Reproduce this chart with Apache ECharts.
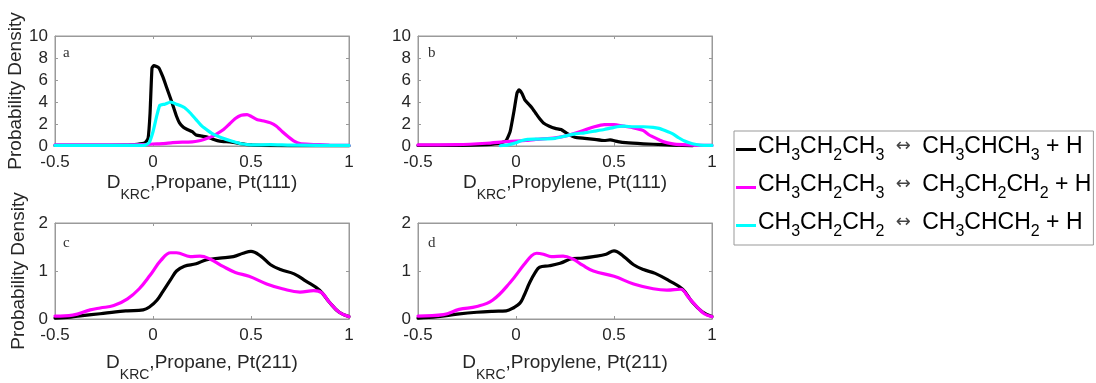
<!DOCTYPE html>
<html>
<head>
<meta charset="utf-8">
<script src="https://cdn.jsdelivr.net/npm/echarts@6/dist/echarts.min.js"></script>
<style>
  html, body { margin: 0; padding: 0; background: #fff; }
  #chart { width: 1096px; height: 383px; }
</style>
</head>
<body>
<div id="chart"></div>
<script>
// Reaction names (digits are drawn as subscripts in the legend)
const reactionNames = [
  'CH3CH2CH3 ↔ CH3CHCH3 + H',
  'CH3CH2CH3 ↔ CH3CH2CH2 + H',
  'CH3CH2CH2 ↔ CH3CHCH2 + H'
];
const reactionColors = ['#000000', '#ff00ff', '#00ffff'];

// Panel letters and axis titles
const panelLetters = ['a', 'b', 'c', 'd'];
const panelMolecules = ['Propane', 'Propylene', 'Propane', 'Propylene'];
const panelSurfaces = ['Pt(111)', 'Pt(111)', 'Pt(211)', 'Pt(211)'];
const yTitle = 'Probability Density';

// Axis ranges
const xMin = -0.5, xMax = 1, xStep = 0.5;
const yMaxTop = 10, yStepTop = 2;
const yMaxBottom = 2, yStepBottom = 1;

// Panel a: Propane on Pt(111)  [D_KRC, density]
const aBlack = [[-0.5,0.05],[-0.3,0.05],[-0.15,0.08],[-0.08,0.15],[-0.04,0.3],[-0.025,0.7],[-0.015,3],[-0.005,7.1],[0.005,7.3],[0.03,7.1],[0.05,6.3],[0.07,5.3],[0.09,4.3],[0.105,3.5],[0.12,2.7],[0.135,2.1],[0.155,1.7],[0.175,1.5],[0.2,1.3],[0.22,1.0],[0.25,0.9],[0.28,0.8],[0.31,0.6],[0.34,0.45],[0.4,0.35],[0.47,0.15],[0.55,0.05],[0.7,0.02],[1,0.02]];
const aMagenta = [[-0.5,0.1],[-0.2,0.1],[-0.05,0.12],[0,0.18],[0.05,0.22],[0.1,0.3],[0.15,0.35],[0.2,0.38],[0.23,0.45],[0.26,0.6],[0.3,0.85],[0.33,1.15],[0.36,1.5],[0.39,2.0],[0.42,2.5],[0.45,2.8],[0.48,2.85],[0.5,2.7],[0.53,2.4],[0.57,2.25],[0.6,2.1],[0.63,1.8],[0.66,1.3],[0.69,0.85],[0.72,0.45],[0.75,0.22],[0.8,0.15],[0.85,0.12],[0.9,0.08],[1,0.05]];
const aCyan = [[-0.5,0.05],[-0.1,0.05],[-0.04,0.08],[-0.02,0.3],[0,1.3],[0.02,2.8],[0.035,3.7],[0.06,3.8],[0.09,4.0],[0.12,3.8],[0.16,3.5],[0.19,3.0],[0.22,2.4],[0.25,1.8],[0.28,1.4],[0.31,1.05],[0.35,0.75],[0.4,0.45],[0.45,0.2],[0.5,0.1],[0.6,0.12],[0.7,0.08],[1,0.05]];

// Panel b: Propylene on Pt(111)
const bBlack = [[-0.5,0.05],[-0.3,0.05],[-0.15,0.12],[-0.08,0.25],[-0.05,0.5],[-0.03,1.3],[-0.01,3.2],[0.005,4.8],[0.015,5.1],[0.03,4.8],[0.045,4.2],[0.065,3.8],[0.08,3.5],[0.1,3.0],[0.12,2.5],[0.14,2.1],[0.17,1.8],[0.2,1.6],[0.23,1.5],[0.26,1.15],[0.3,0.8],[0.35,0.7],[0.4,0.6],[0.45,0.5],[0.48,0.55],[0.52,0.4],[0.56,0.3],[0.65,0.2],[0.75,0.12],[0.85,0.05],[0.9,0.02]];
const bMagenta = [[-0.5,0.1],[-0.3,0.12],[-0.15,0.25],[-0.05,0.4],[0.05,0.5],[0.1,0.6],[0.2,0.75],[0.25,0.9],[0.3,1.15],[0.35,1.45],[0.4,1.75],[0.45,1.95],[0.5,1.95],[0.55,1.8],[0.6,1.65],[0.65,1.4],[0.68,1.0],[0.72,0.65],[0.75,0.4],[0.8,0.2],[0.85,0.12],[0.9,0.08],[1,0.05]];
const bCyan = [[-0.08,0.02],[-0.04,0.1],[0,0.3],[0.03,0.5],[0.06,0.6],[0.1,0.62],[0.15,0.65],[0.2,0.7],[0.25,0.9],[0.3,1.1],[0.35,1.2],[0.4,1.35],[0.45,1.5],[0.5,1.7],[0.55,1.8],[0.6,1.75],[0.65,1.75],[0.7,1.7],[0.73,1.6],[0.76,1.4],[0.8,1.1],[0.83,0.75],[0.86,0.45],[0.9,0.2],[0.94,0.08],[1,0.05]];

// Panel c: Propane on Pt(211)
const cBlack = [[-0.5,0.02],[-0.42,0.04],[-0.36,0.07],[-0.27,0.11],[-0.19,0.15],[-0.13,0.17],[-0.05,0.19],[-0.015,0.26],[0.02,0.39],[0.05,0.57],[0.09,0.82],[0.12,1.0],[0.16,1.1],[0.22,1.15],[0.27,1.23],[0.34,1.27],[0.41,1.3],[0.46,1.37],[0.5,1.41],[0.55,1.31],[0.6,1.13],[0.65,1.03],[0.72,0.94],[0.78,0.79],[0.85,0.6],[0.9,0.35],[0.95,0.14],[1,0.05]];
const cMagenta = [[-0.5,0.06],[-0.41,0.08],[-0.32,0.19],[-0.27,0.23],[-0.2,0.28],[-0.13,0.42],[-0.07,0.63],[-0.015,0.91],[0.04,1.22],[0.09,1.38],[0.12,1.38],[0.19,1.3],[0.24,1.31],[0.29,1.25],[0.36,1.09],[0.42,0.97],[0.49,0.89],[0.58,0.73],[0.66,0.63],[0.75,0.56],[0.82,0.59],[0.86,0.55],[0.9,0.35],[0.95,0.14],[1,0.05]];

// Panel d: Propylene on Pt(211)
const dBlack = [[-0.5,0.02],[-0.4,0.05],[-0.3,0.1],[-0.2,0.14],[-0.12,0.16],[-0.05,0.17],[-0.01,0.24],[0.02,0.33],[0.04,0.48],[0.07,0.76],[0.1,0.98],[0.12,1.08],[0.17,1.11],[0.225,1.16],[0.29,1.26],[0.34,1.27],[0.395,1.3],[0.46,1.35],[0.5,1.42],[0.55,1.3],[0.6,1.13],[0.65,1.03],[0.71,0.95],[0.78,0.8],[0.85,0.62],[0.9,0.35],[0.95,0.15],[1,0.05]];
const dMagenta = [[-0.5,0.06],[-0.37,0.09],[-0.29,0.2],[-0.2,0.26],[-0.12,0.39],[-0.03,0.76],[0.04,1.13],[0.08,1.32],[0.105,1.37],[0.14,1.35],[0.18,1.3],[0.24,1.31],[0.29,1.25],[0.34,1.12],[0.395,1.0],[0.5,0.89],[0.6,0.73],[0.7,0.63],[0.77,0.6],[0.84,0.62],[0.88,0.45],[0.92,0.27],[0.96,0.11],[1,0.05]];

const panelSeries = [
  [aBlack, aMagenta, aCyan],
  [bBlack, bMagenta, bCyan],
  [cBlack, cMagenta],
  [dBlack, dMagenta]
];

// Panel boxes in pixels: [left, top, width, height]
const boxes = [
  [55, 36, 294, 110],
  [418, 36, 294, 110],
  [55, 223, 294, 108],
  [418, 223, 294, 108]
];

const tickColor = '#262626';
const frameColor = '#9a9a9a';
const sansFont = '"Liberation Sans", Arial, sans-serif';

// Turn "CH3CH2CH3 ↔ ..." into rich text with subscript digits
function chemRich(name) {
  let out = '';
  const parts = name.match(/\d+|↔|[^\d↔]+/g);
  parts.forEach(p => {
    if (/^\d+$/.test(p)) out += '{s|' + p + '}';
    else if (p === '↔') out += '{a|' + p + '}';
    else out += '{n|' + p + '}';
  });
  return out;
}

const grids = [], xAxes = [], yAxes = [], series = [], graphics = [];

boxes.forEach((b, i) => {
  const isTop = i < 2;
  grids.push({ left: b[0], top: b[1], width: b[2], height: b[3], show: true, borderColor: frameColor, borderWidth: 1 });
  // bottom axis with labels
  xAxes.push({
    gridIndex: i, type: 'value', min: xMin, max: xMax, interval: xStep,
    position: 'bottom',
    axisLine: { show: true, onZero: false, lineStyle: { color: frameColor, width: 1 } },
    axisTick: { show: true, inside: true, length: 3, lineStyle: { color: frameColor } },
    axisLabel: { margin: 8, fontSize: 17, color: tickColor, fontFamily: sansFont,
      formatter: v => String(Math.round(v * 10) / 10) },
    splitLine: { show: false },
    name: '{n|D}{s|KRC}{n|,' + panelMolecules[i] + ', ' + panelSurfaces[i] + '}',
    nameLocation: 'middle',
    nameGap: isTop ? 27 : 34,
    nameTextStyle: {
      rich: {
        n: { fontSize: 19, color: tickColor, fontFamily: sansFont, verticalAlign: 'bottom', padding: [0, 0, 10, 0] },
        s: { fontSize: 14, color: tickColor, fontFamily: sansFont, verticalAlign: 'bottom' }
      }
    }
  });
  // top frame axis carrying inward ticks only
  xAxes.push({
    gridIndex: i, type: 'value', min: xMin, max: xMax, interval: xStep,
    position: 'top',
    axisLine: { show: true, onZero: false, lineStyle: { color: frameColor, width: 1 } },
    axisTick: { show: true, inside: true, length: 3, lineStyle: { color: frameColor } },
    axisLabel: { show: false }, splitLine: { show: false }
  });
  const yMax = isTop ? yMaxTop : yMaxBottom;
  const yStep = isTop ? yStepTop : yStepBottom;
  yAxes.push({
    gridIndex: i, type: 'value', min: 0, max: yMax, interval: yStep,
    position: 'left',
    axisLine: { show: true, onZero: false, lineStyle: { color: frameColor, width: 1 } },
    axisTick: { show: true, inside: true, length: 3, lineStyle: { color: frameColor } },
    axisLabel: { margin: 7, fontSize: 17, color: tickColor, fontFamily: sansFont },
    splitLine: { show: false },
    name: (i % 2 === 0) ? yTitle : '',
    nameLocation: 'middle', nameGap: 27,
    nameTextStyle: { fontSize: 19, color: tickColor, fontFamily: sansFont }
  });
  yAxes.push({
    gridIndex: i, type: 'value', min: 0, max: yMax, interval: yStep,
    position: 'right',
    axisLine: { show: true, onZero: false, lineStyle: { color: frameColor, width: 1 } },
    axisTick: { show: true, inside: true, length: 3, lineStyle: { color: frameColor } },
    axisLabel: { show: false }, splitLine: { show: false }
  });

  panelSeries[i].forEach((data, k) => {
    series.push({
      type: 'line', name: reactionNames[k],
      xAxisIndex: 2 * i, yAxisIndex: 2 * i,
      data: data, showSymbol: false, symbol: 'none',
      smooth: isTop ? 0.15 : 0.4,
      lineStyle: { color: reactionColors[k], width: 3.2, join: 'round', cap: 'round' },
      itemStyle: { color: reactionColors[k] },
      z: 2 + k
    });
  });

  // panel letter
  graphics.push({
    type: 'text',
    left: b[0] + (i % 2 === 0 ? 8 : 10),
    top: b[1] + (isTop ? 10 : 13),
    style: { text: panelLetters[i], fontSize: 15, fill: '#333', fontFamily: '"Liberation Serif", "Times New Roman", serif' }
  });
});

const chart = echarts.init(document.getElementById('chart'), null, { renderer: 'canvas' });
chart.setOption({
  animation: false,
  backgroundColor: '#ffffff',
  grid: grids,
  xAxis: xAxes,
  yAxis: yAxes,
  series: series,
  graphic: graphics,
  legend: {
    data: reactionNames,
    orient: 'vertical',
    left: 734, top: 131,
    padding: [4, 2, 5, 2],
    itemGap: 9,
    itemWidth: 20, itemHeight: 3,
    icon: 'rect',
    borderColor: '#999', borderWidth: 1,
    backgroundColor: '#fff',
    selectedMode: false,
    formatter: name => chemRich(name),
    textStyle: {
      padding: [0, 0, 0, -3],
      rich: {
        n: { fontSize: 23, color: '#000', fontFamily: sansFont, verticalAlign: 'bottom', padding: [0, 0, 6, 0] },
        s: { fontSize: 16, color: '#000', fontFamily: sansFont, verticalAlign: 'bottom' },
        a: { fontSize: 18, color: '#444', fontFamily: '"DejaVu Sans", sans-serif', verticalAlign: 'bottom', padding: [0, 5, 9, 5] }
      }
    }
  }
});
</script>
</body>
</html>
